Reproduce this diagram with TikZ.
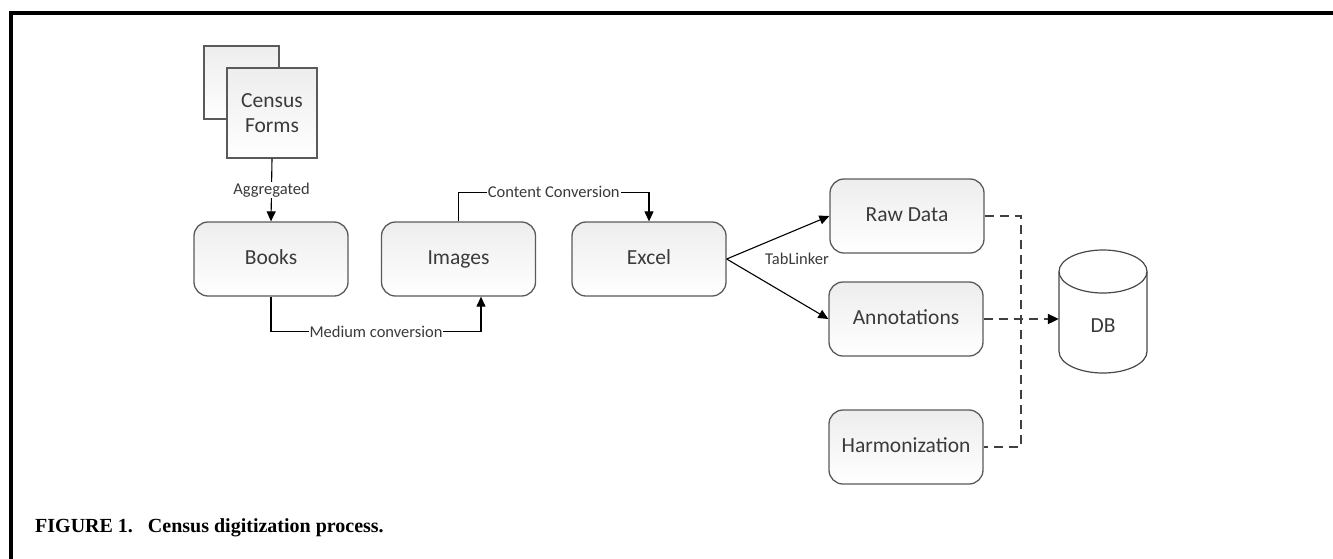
\documentclass[tikz,border=0pt]{standalone}
\usepackage{fontspec}
\setmainfont{Carlito}
\newfontfamily\capfont{Liberation Serif}
\usetikzlibrary{arrows.meta,calc}
\definecolor{edge}{HTML}{5A5A5A}
\definecolor{txt}{HTML}{3A3A3A}
\tikzset{
  box/.style={draw=edge, line width=1.3pt, rounded corners=14pt, top color=gray!14, bottom color=white,
    minimum width=154pt, minimum height=74pt, text=txt, font=\fontsize{21.5}{25}\selectfont, inner sep=0pt,
    text height=14pt, text depth=4pt},
  sq/.style={draw=edge, line width=1.3pt, top color=gray!14, bottom color=white},
  arr/.style={draw=black, line width=1.1pt, -{Triangle[length=10pt,width=9pt]}},
  lab/.style={fill=white, inner sep=1pt, text=txt, font=\fontsize{16.5}{19}\selectfont},
  dsh/.style={draw=black!75, line width=2pt, dash pattern=on 9pt off 6pt},
}
\begin{document}
\begin{tikzpicture}[x=1pt,y=-1pt]
\useasboundingbox (0,0) rectangle (1333,558);
% frame
\draw[line width=4pt] (10.5,560) -- (10.5,13) -- (1335,13);
% census forms
\draw[sq] (204,46) rectangle (279,119);
\node[sq, minimum width=90pt, minimum height=90pt, inner sep=0pt, text=txt, align=center,
  font=\fontsize{21.5}{25}\selectfont] (cf) at (272,113) {Census\\Forms};
% boxes
\node[box] (books) at (271,259) {Books};
\node[box] (img) at (458.5,259) {Images};
\node[box] (xl) at (649,259) {Excel};
\node[box] (raw) at (907,216) {Raw Data};
\node[box] (annot) at (906,319) {Annotations};
\node[box] (harm) at (906,447) {Harmonization};
% DB cylinder
\fill[white] (1059,271.5) -- (1059,351.5) arc[start angle=180,end angle=360,x radius=44pt,y radius=21.5pt] -- (1147,271.5) -- cycle;
\draw[edge!80!black, line width=1.2pt] (1059,271.5) -- (1059,351.5) arc[start angle=180,end angle=360,x radius=44pt,y radius=21.5pt] -- (1147,271.5);
\draw[edge!80!black, line width=1.2pt] (1103,271.5) ellipse[x radius=44pt,y radius=21.5pt];
\node[minimum width=88pt, minimum height=60pt, inner sep=0pt, text=txt, font=\fontsize{21.5}{25}\selectfont] (db) at (1103,326) {DB};
% connectors
\draw[arr] (cf.south) -- node[lab]{Aggregated} (books.north);
\draw[arr] (books.south) -- ++(0,35) -| node[lab,pos=0.25]{Medium conversion} ([xshift=22.5pt]img.south);
\draw[arr] (img.north) -- ++(0,-29) -| node[lab,pos=0.25]{Content Conversion} (xl.north);
\draw[arr] (xl.east) -- (raw.west);
\draw[arr] (xl.east) -- (annot.west);
\node[lab, fill=none] (tl) at (797,259) {TabLinker};
% dashed
\coordinate (bus) at (1021,216);
\draw[dsh] (raw.east) -- (raw.east -| bus) -- (harm.east -| bus) -- (harm.east);
\draw[dsh, -{Triangle[length=11pt,width=10pt,color=black]}] (annot.east) -- (annot.east -| db.west);
% caption
\node[anchor=base west, inner sep=0pt, font=\capfont\bfseries\fontsize{20}{24}\selectfont] (cap) at (35,532)
  {FIGURE 1.\hspace{15pt}Census digitization process.};
\end{tikzpicture}
\end{document}
